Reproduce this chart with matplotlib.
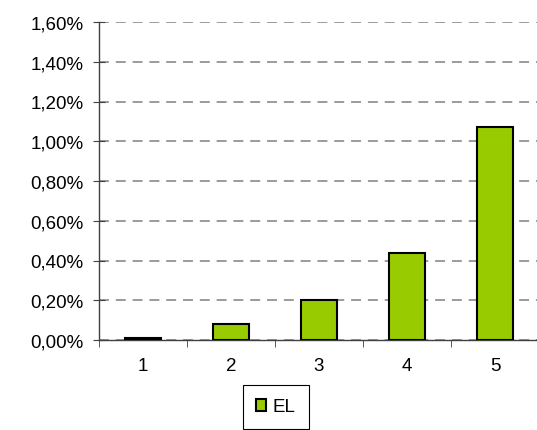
import matplotlib
matplotlib.use("Agg")
import matplotlib.pyplot as plt
from matplotlib.ticker import FuncFormatter, MultipleLocator

categories = ["1", "2", "3", "4", "5"]
el_values = [0.0001, 0.0008, 0.0020, 0.0044, 0.0107]
series_name = "EL"

plt.rcParams["font.family"] = ["Liberation Sans", "DejaVu Sans"]

W, H = 537, 431
fig = plt.figure(figsize=(W / 100, H / 100), dpi=100)
ax = fig.add_axes([99 / W, 90 / H, 440 / W, 318 / H])

x = list(range(len(categories)))
ax.bar(x, el_values, width=0.41, color="#99CC00", edgecolor="black",
       linewidth=1.5, label=series_name, zorder=3)

ax.set_xlim(-0.5, len(categories) - 0.5)
ax.set_ylim(0, 0.016)
ax.yaxis.set_major_locator(MultipleLocator(0.002))
ax.yaxis.set_major_formatter(
    FuncFormatter(lambda v, p: f"{v * 100:.2f}%".replace(".", ",")))
ax.set_xticks(x)
ax.set_xticklabels(categories)
ax.set_xticks([i - 0.5 for i in range(len(categories) + 1)], minor=True)

ax.grid(axis="y", color="#808080", linestyle=(0, (6.5, 4.5)), linewidth=1.1, zorder=0)
for side in ("top", "right"):
    ax.spines[side].set_visible(False)
for side in ("left", "bottom"):
    ax.spines[side].set_color("#404040")
    ax.spines[side].set_linewidth(1.0)

ax.tick_params(axis="y", which="major", direction="inout", length=8,
               color="#404040", labelsize=13.5, pad=7)
ax.tick_params(axis="x", which="major", length=0, labelsize=13.5, pad=12)
ax.tick_params(axis="x", which="minor", direction="out", length=5,
               color="#404040")

fig.legend(loc="center", bbox_to_anchor=(276 / W, 23 / H), fontsize=13.5,
           frameon=True, fancybox=False, edgecolor="black", framealpha=1,
           handlelength=0.55, handleheight=0.55, handletextpad=0.35,
           borderpad=0.7, borderaxespad=0)
fig.legends[0].get_frame().set_linewidth(0.8)

fig.savefig("out.png", dpi=100)
